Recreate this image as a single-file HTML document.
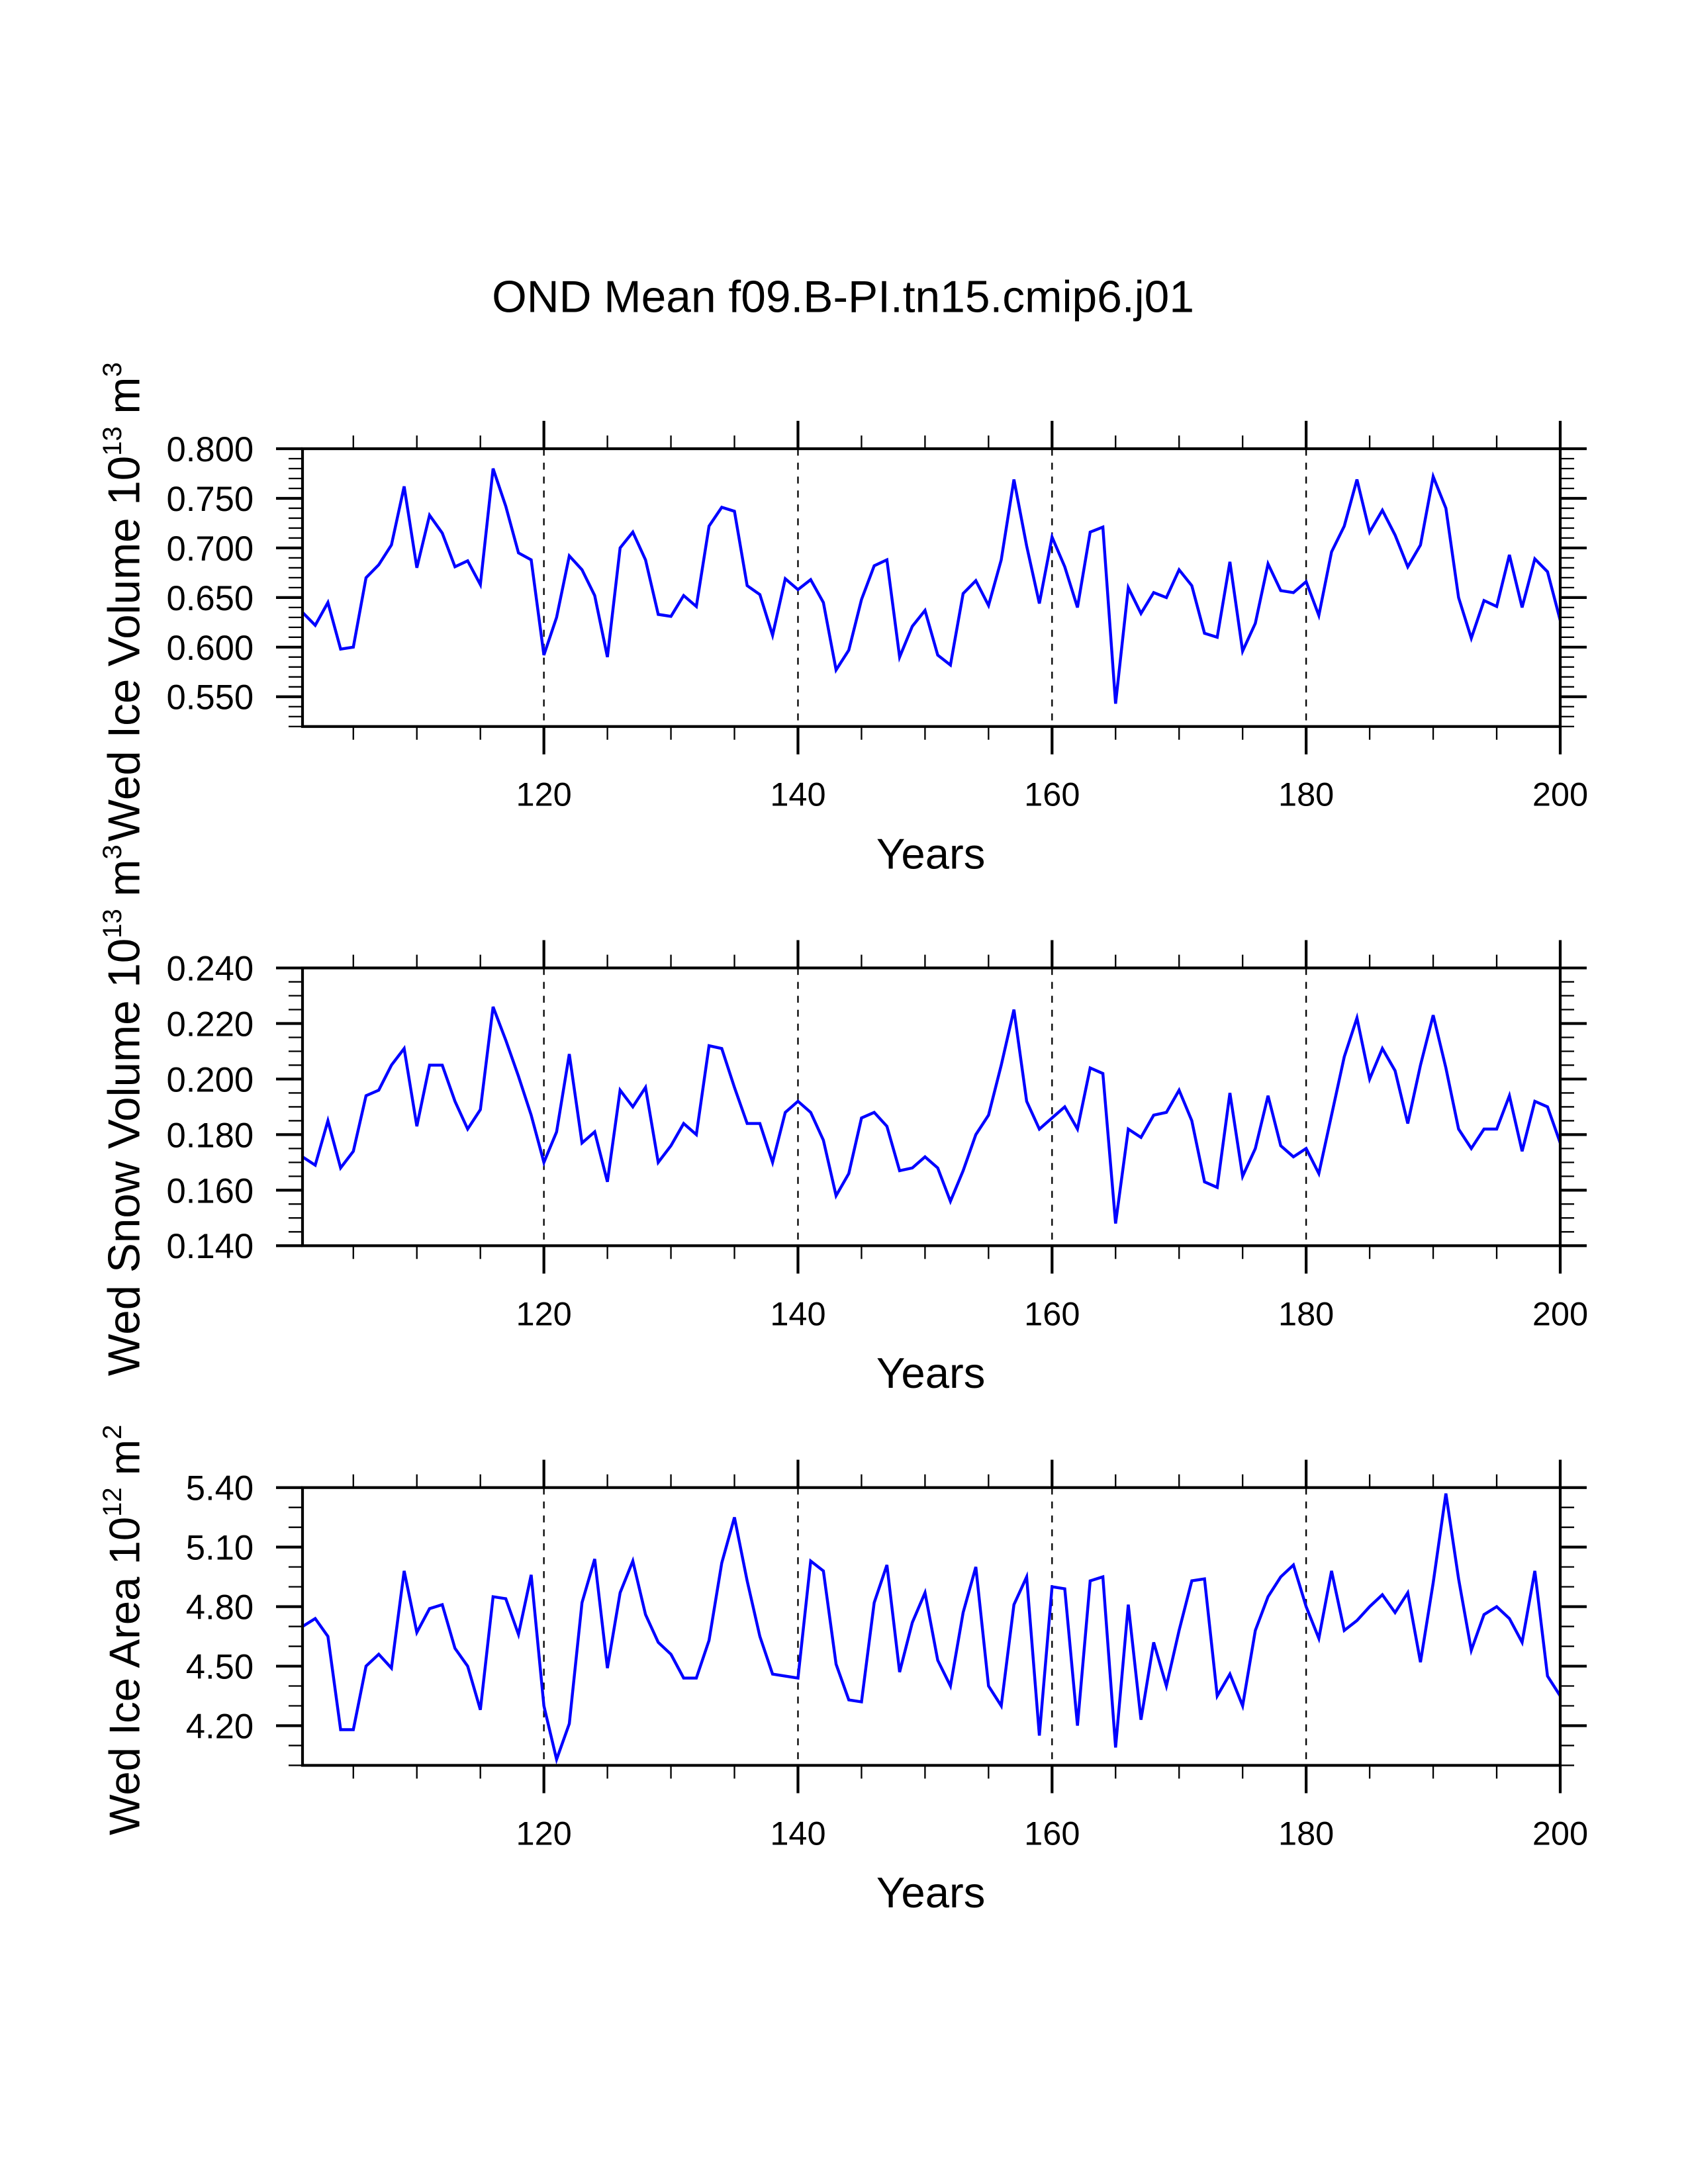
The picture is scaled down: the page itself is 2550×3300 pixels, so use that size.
<!DOCTYPE html>
<html><head><meta charset="utf-8"><style>
html,body{margin:0;padding:0;background:#fff;}
svg{display:block;font-family:"Liberation Sans",Arial,sans-serif;}
</style></head><body>
<svg id="chart" width="2550" height="3300" viewBox="0 0 1211.4 1567.7" preserveAspectRatio="none" xmlns="http://www.w3.org/2000/svg">
<rect x="0" y="0" width="1211.4" height="1567.7" fill="#fff"/>
<text x="605" y="224" font-size="32" text-anchor="middle" textLength="504" lengthAdjust="spacingAndGlyphs">OND Mean f09.B-PI.tn15.cmip6.j01</text>
</svg>
<script>
const years = [];
for (let y = 101; y <= 200; y++) years.push(y);
const xTickLabels = ["120","140","160","180","200"];
const iceVolume = [0.635,0.622,0.645,0.598,0.600,0.670,0.683,0.703,0.762,0.680,0.733,0.715,0.681,0.687,0.663,0.780,0.742,0.695,0.688,0.592,0.630,0.692,0.678,0.652,0.590,0.700,0.716,0.688,0.633,0.631,0.652,0.641,0.722,0.741,0.737,0.662,0.653,0.612,0.669,0.658,0.668,0.645,0.577,0.597,0.648,0.682,0.688,0.590,0.621,0.637,0.592,0.582,0.654,0.667,0.642,0.688,0.769,0.702,0.644,0.711,0.681,0.640,0.716,0.721,0.543,0.660,0.634,0.655,0.650,0.678,0.662,0.614,0.610,0.686,0.596,0.624,0.684,0.657,0.655,0.666,0.632,0.696,0.722,0.769,0.716,0.738,0.713,0.681,0.703,0.772,0.740,0.650,0.609,0.647,0.641,0.693,0.640,0.689,0.676,0.627];
const snowVolume = [0.172,0.169,0.185,0.168,0.174,0.194,0.196,0.205,0.211,0.183,0.205,0.205,0.192,0.182,0.189,0.226,0.214,0.201,0.187,0.170,0.181,0.209,0.177,0.181,0.163,0.196,0.190,0.197,0.170,0.176,0.184,0.180,0.212,0.211,0.197,0.184,0.184,0.170,0.188,0.192,0.188,0.178,0.158,0.166,0.186,0.188,0.183,0.167,0.168,0.172,0.168,0.156,0.167,0.180,0.187,0.205,0.225,0.192,0.182,0.186,0.190,0.182,0.204,0.202,0.148,0.182,0.179,0.187,0.188,0.196,0.185,0.163,0.161,0.195,0.165,0.175,0.194,0.176,0.172,0.175,0.166,0.187,0.208,0.222,0.200,0.211,0.203,0.184,0.205,0.223,0.204,0.182,0.175,0.182,0.182,0.194,0.174,0.192,0.190,0.177];
const iceArea = [4.70,4.74,4.65,4.18,4.18,4.50,4.56,4.49,4.98,4.67,4.79,4.81,4.59,4.50,4.28,4.85,4.84,4.66,4.96,4.30,4.03,4.21,4.82,5.04,4.49,4.87,5.03,4.76,4.62,4.56,4.44,4.44,4.63,5.02,5.25,4.93,4.65,4.46,4.45,4.44,5.03,4.98,4.51,4.33,4.32,4.82,5.01,4.47,4.72,4.87,4.53,4.40,4.77,5.00,4.40,4.30,4.81,4.95,4.15,4.90,4.89,4.20,4.93,4.95,4.09,4.81,4.23,4.62,4.40,4.68,4.93,4.94,4.35,4.46,4.30,4.68,4.85,4.95,5.01,4.80,4.64,4.98,4.68,4.73,4.80,4.86,4.77,4.87,4.52,4.92,5.37,4.94,4.58,4.76,4.80,4.74,4.62,4.98,4.45,4.35];
const ticks1 = ["0.800","0.750","0.700","0.650","0.600","0.550"];
const ticks2 = ["0.240","0.220","0.200","0.180","0.160","0.140"];
const ticks3 = ["5.40","5.10","4.80","4.50","4.20"];

const NS = "http://www.w3.org/2000/svg";
const svg = document.getElementById("chart");
const X0 = 217.1, X1 = 1119.7, XMIN = 101, XMAX = 200;
function xs(v){ return X0 + (v - XMIN) / (XMAX - XMIN) * (X1 - X0); }
function mk(tag, attrs, parent){
  const e = document.createElementNS(NS, tag);
  for (const k in attrs) e.setAttribute(k, attrs[k]);
  (parent || svg).appendChild(e);
  return e;
}
const panels = [
  {name:"ice-volume", top:322.1, h:199.4, ymin:0.52, ymax:0.80, data:iceVolume, labels:ticks1, minorStep:0.01, exp:"13", unitExp:"3", title:"Wed Ice Volume ", cy:432, fs:32},
  {name:"snow-volume", top:694.8, h:199.4, ymin:0.14, ymax:0.24, data:snowVolume, labels:ticks2, minorStep:0.005, exp:"13", unitExp:"3", title:"Wed Snow Volume ", cy:797, fs:32},
  {name:"ice-area", top:1067.8, h:199.4, ymin:4.0, ymax:5.4, data:iceArea, labels:ticks3, minorStep:0.1, exp:"12", unitExp:"2", title:"Wed Ice Area ", cy:1170, fs:31}
];
panels.forEach(p => {
  const g = mk("g", {});
  
  
  const ys = v => p.top + (p.ymax - v) / (p.ymax - p.ymin) * p.h;
  const bot = p.top + p.h;
  [120,140,160,180].forEach(yr => {
    const l = mk("line", {x1:xs(yr), x2:xs(yr), y1:p.top, y2:bot, stroke:"#000", "stroke-width":1.1, "stroke-dasharray":"5,5"}, g);
    
    
  });
  const pts = p.data.map((v,i) => xs(years[i]).toFixed(2) + "," + ys(v).toFixed(2)).join(" ");
  const line = mk("polyline", {points:pts, fill:"none", stroke:"#0000ff", "stroke-width":2.1, "stroke-linejoin":"miter"}, g);
  
  
  const fr = mk("rect", {x:X0, y:p.top, width:X1-X0, height:p.h, fill:"none", stroke:"#000", "stroke-width":2}, g);
  
  
  for (let yr = 105; yr <= 200; yr += 5) {
    const major = yr % 20 === 0;
    const len = major ? 20 : 9.5;
    const sw = major ? 2 : 1.1;
    mk("line", {x1:xs(yr), x2:xs(yr), y1:p.top, y2:p.top-len, stroke:"#000", "stroke-width":sw}, g);
    mk("line", {x1:xs(yr), x2:xs(yr), y1:bot, y2:bot+len, stroke:"#000", "stroke-width":sw}, g);
  }
  xTickLabels.forEach(lab => {
    const t = mk("text", {x:xs(+lab), y:bot+57, "font-size":24, "text-anchor":"middle"}, g);
    t.textContent = lab;
    
    
  });
  const yt = mk("text", {x:668, y:bot+102, "font-size":31, "text-anchor":"middle"}, g);
  yt.textContent = "Years";
  
  
  const nMinor = Math.round((p.ymax - p.ymin) / p.minorStep);
  for (let k = 0; k <= nMinor; k++) {
    const v = p.ymin + k * p.minorStep;
    const yy = ys(v);
    mk("line", {x1:X0, x2:X0-10, y1:yy, y2:yy, stroke:"#000", "stroke-width":1.1}, g);
    mk("line", {x1:X1, x2:X1+10, y1:yy, y2:yy, stroke:"#000", "stroke-width":1.1}, g);
  }
  p.labels.forEach(lab => {
    const yy = ys(parseFloat(lab));
    mk("line", {x1:X0, x2:X0-19, y1:yy, y2:yy, stroke:"#000", "stroke-width":2}, g);
    mk("line", {x1:X1, x2:X1+19, y1:yy, y2:yy, stroke:"#000", "stroke-width":2}, g);
    const t = mk("text", {x:182, y:yy+9, "font-size":25, "text-anchor":"end"}, g);
    t.textContent = lab;
    
    
  });
  const tt = mk("text", {x:0, y:0, "font-size":p.fs, "text-anchor":"middle", transform:"translate(100," + p.cy + ") rotate(-90)"}, g);
  
  
  const a = mk("tspan", {}, tt); a.textContent = p.title + "10";
  const b = mk("tspan", {dy:-13, "font-size":19}, tt); b.textContent = p.exp;
  const c = mk("tspan", {dy:13}, tt); c.textContent = " m";
  const d = mk("tspan", {dy:-13, "font-size":19}, tt); d.textContent = p.unitExp;
});
</script>
</body></html>
